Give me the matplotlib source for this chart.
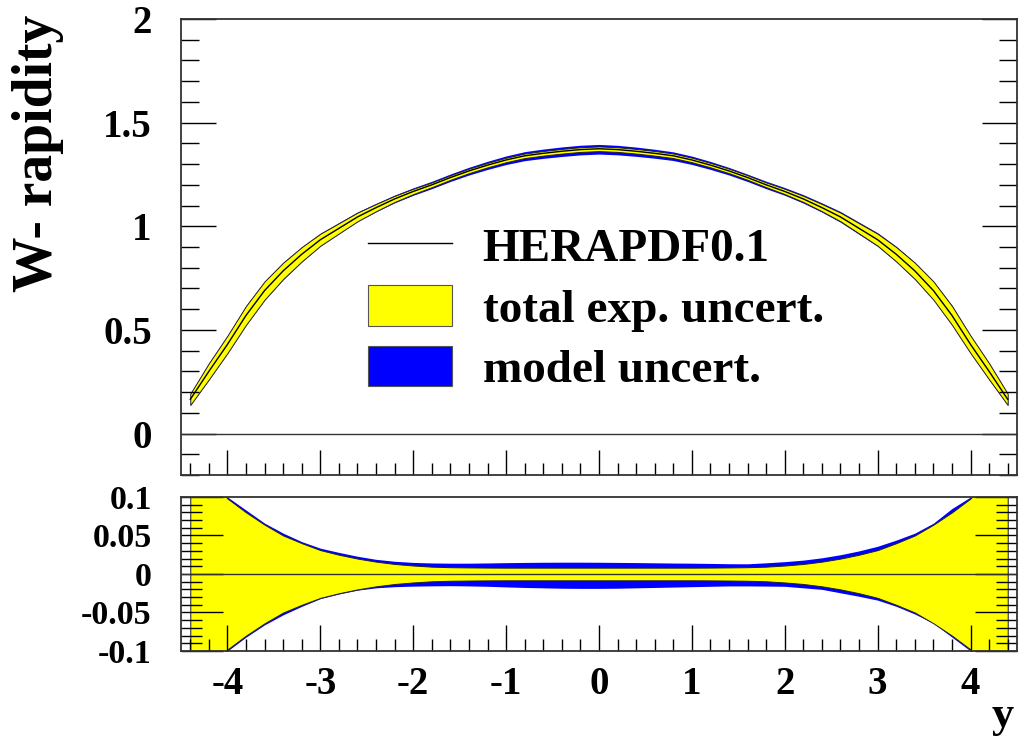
import numpy as np
import matplotlib.pyplot as plt
from matplotlib.ticker import MultipleLocator
from matplotlib.lines import Line2D
from matplotlib.patches import Patch

# W- rapidity prediction, HERAPDF0.1
y = [-4.4, -4.2, -4.0, -3.8, -3.6, -3.4, -3.2, -3.0, -2.8, -2.6, -2.4, -2.2, -2.0,
     -1.8, -1.6, -1.4, -1.2, -1.0, -0.8, -0.6, -0.4, -0.2, 0.0, 0.2, 0.4, 0.6,
     0.8, 1.0, 1.2, 1.4, 1.6, 1.8, 2.0, 2.2, 2.4, 2.6, 2.8, 3.0, 3.2, 3.4, 3.6,
     3.8, 4.0, 4.2, 4.4]

central = [0.165, 0.30, 0.43, 0.57, 0.69, 0.785, 0.865, 0.935, 0.99, 1.045, 1.09,
           1.132, 1.168, 1.20, 1.235, 1.267, 1.295, 1.32, 1.34, 1.352, 1.362, 1.370,
           1.374, 1.370, 1.362, 1.352, 1.34, 1.32, 1.295, 1.267, 1.235, 1.20, 1.168,
           1.132, 1.09, 1.045, 0.99, 0.935, 0.865, 0.785, 0.69, 0.57, 0.43, 0.30, 0.165]

# relative experimental uncertainty (symmetric)
exp_err = [0.165, 0.13, 0.098, 0.080, 0.064, 0.050, 0.040, 0.031, 0.025, 0.020, 0.016,
           0.013, 0.011, 0.0095, 0.0088, 0.0085, 0.0083, 0.0082, 0.0082, 0.0082, 0.0082,
           0.0082, 0.0082, 0.0082, 0.0082, 0.0082, 0.0082, 0.0082, 0.0083, 0.0085,
           0.0088, 0.0095, 0.011, 0.013, 0.016, 0.020, 0.025, 0.031, 0.040, 0.050,
           0.064, 0.080, 0.098, 0.13, 0.165]

# relative total (exp + model) uncertainty, up and down
tot_up = [0.17, 0.135, 0.100, 0.083, 0.066, 0.053, 0.042, 0.0335, 0.028, 0.023, 0.019,
          0.0165, 0.015, 0.0143, 0.014, 0.014, 0.0143, 0.0147, 0.015, 0.0152, 0.0153,
          0.0153, 0.0152, 0.015, 0.0148, 0.0145, 0.0142, 0.014, 0.0137, 0.0133, 0.0132,
          0.0145, 0.016, 0.018, 0.021, 0.025, 0.030, 0.036, 0.044, 0.053, 0.066,
          0.085, 0.100, 0.135, 0.17]
tot_dn = [0.17, 0.135, 0.100, 0.082, 0.066, 0.053, 0.042, 0.032, 0.026, 0.021, 0.018,
          0.0165, 0.0158, 0.0154, 0.0152, 0.0155, 0.016, 0.0168, 0.0175, 0.018, 0.0185,
          0.0187, 0.0187, 0.0185, 0.018, 0.0175, 0.017, 0.0165, 0.016, 0.0155, 0.0155,
          0.0157, 0.016, 0.018, 0.020, 0.0245, 0.029, 0.034, 0.042, 0.052, 0.064,
          0.082, 0.100, 0.135, 0.17]

y = np.array(y)
central = np.array(central)
exp_err = np.array(exp_err)
tot_up = np.array(tot_up)
tot_dn = np.array(tot_dn)

plt.rcParams['font.family'] = 'Liberation Serif'
plt.rcParams['font.weight'] = 'bold'

fig = plt.figure(figsize=(10.18, 7.37), dpi=100)
ax = fig.add_axes([0.1778, 0.3555, 0.8212, 0.6187])
ax2 = fig.add_axes([0.1778, 0.1167, 0.8212, 0.2090])

yellow = '#ffff00'
blue = '#0000ff'

# top panel: absolute prediction
ax.fill_between(y, central * (1 - tot_dn), central * (1 + tot_up), color=blue, lw=0)
ax.fill_between(y, central * (1 - exp_err), central * (1 + exp_err), facecolor=yellow,
                edgecolor='#222222', lw=0.7)
ax.plot(y, central, color='black', lw=1.0)
ax.axhline(0, color='#333333', lw=1.0)

ax.set_xlim(-4.5, 4.5)
ax.set_ylim(-0.2, 2.0)
ax.yaxis.set_minor_locator(MultipleLocator(0.1))
ax.xaxis.set_major_locator(MultipleLocator(1))
ax.xaxis.set_minor_locator(MultipleLocator(0.2))
ax.set_yticks([0, 0.5, 1, 1.5, 2])
ax.set_yticklabels(['0', '0.5', '1', '1.5', '2'])
ax.tick_params(axis='y', which='both', direction='in', left=True, right=True,
               labelsize=28, pad=21, width=1.0)
ax.tick_params(axis='y', which='major', length=25)
ax.tick_params(axis='y', which='minor', length=13)
ax.tick_params(axis='x', which='both', direction='in', bottom=True, top=False,
               labelbottom=False, width=1.0)
ax.tick_params(axis='x', which='major', length=18)
ax.tick_params(axis='x', which='minor', length=9)

handles = [Line2D([], [], color='black', lw=1.0),
           Patch(facecolor=yellow, edgecolor='#555555', lw=0.8),
           Patch(facecolor=blue, edgecolor='#555555', lw=0.8)]
ax.legend(handles, ['HERAPDF0.1', 'total exp. uncert.', 'model uncert.'],
          loc='upper left', bbox_to_anchor=(0.224, 0.55), frameon=False,
          fontsize=34, handlelength=1.78, handleheight=0.95, labelspacing=0.30,
          handletextpad=0.64, borderpad=0, borderaxespad=0)

# bottom panel: relative uncertainties
ax2.fill_between(y, -tot_dn, tot_up, color=blue, lw=0)
ax2.fill_between(y, -exp_err, exp_err, facecolor=yellow, edgecolor='#222222', lw=0.7)
ax2.axhline(0, color='#333333', lw=1.0)

ax2.set_xlim(-4.5, 4.5)
ax2.set_ylim(-0.1, 0.1)
ax2.set_yticks([-0.1, -0.05, 0, 0.05, 0.1])
ax2.set_yticklabels(['-0.1', '-0.05', '0', '0.05', '0.1'])
ax2.yaxis.set_minor_locator(MultipleLocator(0.01))
ax2.xaxis.set_minor_locator(MultipleLocator(0.2))
ax2.set_xticks(range(-4, 5))
ax2.set_xticklabels([str(v) for v in range(-4, 5)])
ax2.tick_params(axis='y', which='both', direction='in', left=True, right=True,
                labelsize=24.5, pad=21, width=1.0)
ax2.tick_params(axis='y', which='major', length=30)
ax2.tick_params(axis='y', which='minor', length=15)
ax2.tick_params(axis='x', which='both', direction='in', bottom=True, top=False,
                labelsize=28, pad=11, width=1.0)
ax2.tick_params(axis='x', which='major', length=19)
ax2.tick_params(axis='x', which='minor', length=9)

for a in (ax, ax2):
    for s in a.spines.values():
        s.set_linewidth(1.3)
        s.set_color('#333333')

fig.text(0.037, 0.98, 'W- rapidity', rotation=90, ha='center', va='top',
         fontsize=40, fontweight='bold')
fig.text(0.996, 0.013, 'y', ha='right', va='baseline', fontsize=32, fontweight='bold')

plt.savefig('out.png', dpi=100)
